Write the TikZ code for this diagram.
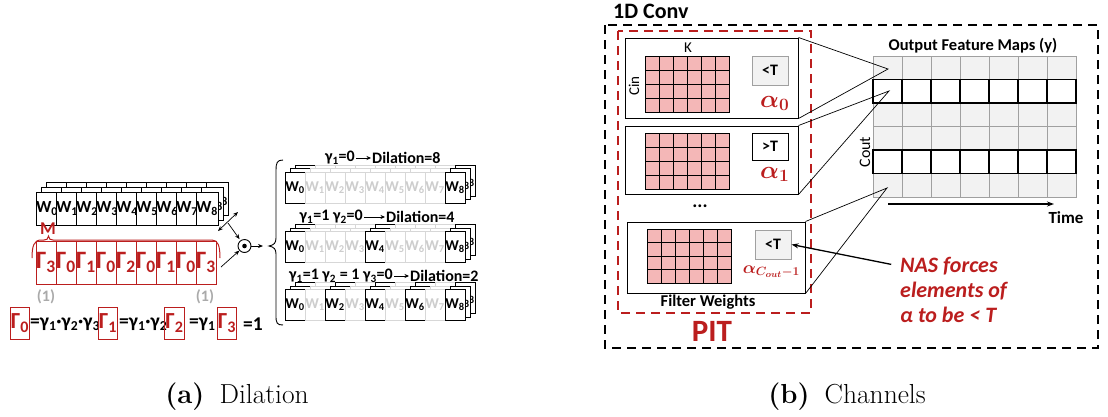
\documentclass[tikz,border=0pt]{standalone}
\usepackage{amsmath}
\usepackage{bm}
\usepackage{fontspec}
\newfontfamily\carl{Carlito}
\usetikzlibrary{arrows.meta}

\definecolor{pitred}{RGB}{187,30,30}
\definecolor{pinkcell}{RGB}{244,183,183}
\definecolor{lightfill}{RGB}{242,242,242}
\definecolor{midgray}{RGB}{160,160,160}
\definecolor{ghostline}{RGB}{215,215,215}
\definecolor{ghosttext}{RGB}{205,205,205}
\definecolor{onegray}{RGB}{170,170,170}

\newcommand\fs[1]{\fontsize{#1}{#1}\selectfont}
\newcommand\wl[1]{W\textsubscript{#1}}
\newcommand\gl[1]{Γ\textsubscript{#1}}
\newcommand\yl[1]{γ\textsubscript{#1}}
% 6x4 pink weight matrix: x0, y0, cell width, cell height
\newcommand\pinkgrid[4]{%
  \filldraw[fill=pinkcell,line width=1pt] (#1,#2) rectangle ({#1+6*#3},{#2+4*#4});
  \foreach \c in {1,...,5} \draw[line width=1pt] ({#1+\c*#3},#2) -- ({#1+\c*#3},{#2+4*#4});
  \foreach \r in {1,...,3} \draw[line width=1pt] (#1,{#2+\r*#4}) -- ({#1+6*#3},{#2+\r*#4});
}

\tikzset{
  wbox/.style={draw, fill=white, line width=0.9pt, minimum width=20, minimum height=33,
    inner sep=0, font=\carl\bfseries\fs{17}},
  dbox/.style={draw, fill=white, line width=1pt, minimum width=20, minimum height=31,
    inner sep=0, font=\carl\bfseries\fs{15}},
  ghostbox/.style={draw=ghostline, fill=white, line width=0.8pt, text=ghosttext,
    minimum width=20, minimum height=31, inner sep=0, font=\carl\bfseries\fs{15}},
  gambox/.style={draw=pitred, fill=white, line width=1pt, text=pitred, minimum width=20,
    minimum height=43, inner sep=0, font=\carl\bfseries\fs{25}},
  eqbox/.style={draw=pitred, line width=1pt, text=pitred, minimum width=17,
    minimum height=32, inner xsep=0.5, inner ysep=0, font=\carl\bfseries\fs{23}},
  eqtxt/.style={inner sep=0, anchor=west, font=\carl\bfseries\fs{19.5}},
  hdr/.style={inner sep=1, font=\carl\bfseries\fs{16}},
  hdrarrow/.style={line width=0.6pt, -{Stealth[length=4.5,width=4]}},
  thin/.style={line width=0.7pt},
  smallarrow/.style={line width=0.7pt, -{Stealth[length=5,width=4]}},
  thrbox/.style={draw=midgray, fill=lightfill, line width=1pt, minimum width=36,
    minimum height=29, inner sep=0, font=\carl\bfseries\fs{16}},
  filterbox/.style={draw, line width=1pt, inner sep=0},
  lbl/.style={inner sep=0, font=\carl\fs{15}},
  blbl/.style={inner sep=0, font=\carl\bfseries\fs{16.5}},
  nas/.style={inner sep=0, anchor=base west, text=pitred, font=\carl\bfseries\itshape\fs{22}},
  caption/.style={inner sep=0, font=\fontsize{27.5}{30}\selectfont},
}

\begin{document}
\begin{tikzpicture}[x=1pt,y=-1pt]
\useasboundingbox (0,0) rectangle (1108,416);

%%%%%%%%%%%%%%%% (a) Dilation %%%%%%%%%%%%%%%%
% weight tensor: three stacked rows of nine taps
\foreach \dx/\dy/\l in {10/-10/c,5/-5/b,0/0/a}{
  \foreach \i in {0,...,8}{
    \node[wbox] (w\l\i) at ({47+20*\i+\dx},{208.5+\dy}) {\wl{\i}};
  }
}

% mask M and its brace
\node[inner sep=0, text=pitred, font=\carl\bfseries\fs{18}] (M) at (48,228.5) {M};
\draw[pitred, line width=1pt] (32,258) .. controls (32,246) and (34,240) .. (41,240)
  -- (44,240) .. controls (47,240) and (48,239) .. (48.5,236)
  .. controls (49,239) and (50,240) .. (53,240) -- (212,240)
  .. controls (218,240) and (220,246) .. (220,258);

% gamma mask row
\foreach \k [count=\n from 0] in {3,0,1,0,2,0,1,0,3}{
  \node[gambox] (g\n) at ({46+20*\n},262.5) {\gl{\k}};
}
\node[inner sep=0, text=onegray, font=\carl\bfseries\fs{16}] (onel) at (46,297) {(1)};
\node[inner sep=0, text=onegray, font=\carl\bfseries\fs{16}] (oner) at (205,297) {(1)};

% gamma definitions
\node[eqbox] (e0) at (20,323) {\gl{0}};
\node[eqtxt] (q0) at (30,324) {=\yl{1}·\yl{2}·\yl{3}};
\node[eqbox] (e1) at (108,323) {\gl{1}};
\node[eqtxt] (q1) at (119,324) {=\yl{1}·\yl{2}};
\node[eqbox] (e2) at (174.5,323) {\gl{2}};
\node[eqtxt] (q2) at (189,324) {=\yl{1}};
\node[eqbox] (e3) at (227,323) {\gl{3}};
\node[eqtxt] (q3) at (243,324) {=1};

% element-wise product
\node[circle, draw, line width=0.9pt, minimum size=13, inner sep=0] (od) at (244.5,246) {};
\fill (od.center) circle (2.3);
\coordinate (da1) at (218,231);
\coordinate (da2) at (238,212);
\coordinate (dm) at (228,223);
\coordinate (gm) at (221,267);
\coordinate (ot) at (263,246);
\draw[thin, {Stealth[length=5,width=4]}-{Stealth[length=5,width=4]}] (da1) -- (da2);
\draw[smallarrow, shorten >=1.5] (dm) -- (od);
\draw[smallarrow] (gm) -- (od);
\draw[smallarrow] (od) -- (ot);

% brace grouping the three dilated kernels
\draw[line width=0.9pt] (283,160) .. controls (277,160) and (276,163) .. (276,170)
  -- (276,238) .. controls (276,243) and (274,245) .. (269,246)
  .. controls (274,247) and (276,249) .. (276,254) -- (276,316)
  .. controls (276,323) and (277,325) .. (283,325);

% dilated kernels: active taps in black, masked taps in grey
\foreach \r/\yc/\st in {1/187.5/8, 2/247/4, 3/305/2}{
  \foreach \dx/\dy/\l in {10/-7/c,5/-3.5/b,0/0/a}{
    \foreach \i in {0,...,8}{
      \pgfmathtruncatemacro\isdark{mod(\i,\st)==0 ? 1 : 0}
      \ifnum\isdark=1
        \node[dbox] (r\r\l\i) at ({295+20*\i+\dx},{\yc+\dy}) {\wl{\i}};
      \else
        \node[ghostbox] (r\r\l\i) at ({295+20*\i+\dx},{\yc+\dy}) {\wl{\i}};
      \fi
    }
  }
}

% row headers
\node[hdr, anchor=east] (h1a) at (356,158) {\yl{1}=0};
\node[hdr, anchor=west] (h1b) at (371,158) {Dilation=8};
\draw[hdrarrow] (h1a) -- (h1b);
\node[hdr, anchor=east] (h2a) at (364,217) {\yl{1}=1 \yl{2}=0};
\node[hdr, anchor=west] (h2b) at (385,217) {Dilation=4};
\draw[hdrarrow] (h2a) -- (h2b);
\node[hdr, anchor=east] (h3a) at (394,276) {\yl{1}=1 \yl{2} = 1 \yl{3}=0};
\node[hdr, anchor=west] (h3b) at (409,276) {Dilation=2};
\draw[hdrarrow] (h3a) -- (h3b);

\node[caption] (capa) at (237,397) {\textbf{(a)}\hspace{0.55em}Dilation};

%%%%%%%%%%%%%%%% (b) Channels %%%%%%%%%%%%%%%%
\node[inner sep=0, anchor=base west, font=\carl\bfseries\fs{22}] (conv) at (613,18.5) {1D Conv};
\draw[line width=2.3pt, dash pattern=on 9pt off 6pt] (605,25) rectangle (1098,348);
\draw[pitred, line width=2.3pt, dash pattern=on 9pt off 6pt] (618,31) rectangle (811,313);

% filters
\node[filterbox, minimum width=173, minimum height=80] (f1) at (711.5,78) {};
\node[filterbox, minimum width=173, minimum height=68] (f2) at (711.5,160) {};
\node[filterbox, minimum width=178, minimum height=71] (f3) at (716,257.5) {};
\pinkgrid{645}{56}{14}{14}
\pinkgrid{645}{133}{14}{14}
\pinkgrid{647}{229}{14}{13.5}
\node[lbl] (K) at (688,48) {K};
\node[lbl, rotate=90] (cin) at (634,86) {Cin};

% channel masks
\node[thrbox] (t1) at (770,70.5) {<T};
\node[thrbox, draw=black, fill=white, minimum height=27] (t2) at (770,146.5) {>T};
\node[thrbox] (t3) at (773,244.5) {<T};
\node[inner sep=0, anchor=base west, text=pitred, font=\fs{25}] (a0) at (760,107) {$\bm{\alpha}_{\bm{0}}$};
\node[inner sep=0, anchor=base west, text=pitred, font=\fs{25}] (a1) at (760,178) {$\bm{\alpha}_{\bm{1}}$};
\node[inner sep=0, anchor=base east, text=pitred, font=\fs{18}] (a2) at (800,273) {$\bm{\alpha}_{\bm{C}_{\bm{out}}\bm{-1}}$};

\node[inner sep=0, font=\carl\bfseries\fs{19}] (dots) at (700,206) {...};
\node[blbl] (fw) at (708,302) {Filter Weights};
\node[inner sep=0, text=pitred, font=\carl\bfseries\fs{31}] (pit) at (712,331) {PIT};

% output feature maps
\foreach \r in {0,2,3,5}{
  \foreach \c in {0,...,6}{
    \filldraw[fill=lightfill, draw=midgray, line width=0.8pt]
      ({873+29*\c},{56+23.5*\r}) rectangle ++(29,23.5);
  }
}
\foreach \r in {1,4}{
  \foreach \c in {0,...,6}{
    \filldraw[fill=white, draw=black, line width=1.1pt]
      ({873+29*\c},{56+23.5*\r}) rectangle ++(29,23.5);
  }
}
\node[inner sep=0, font=\carl\bfseries\fs{16.5}] (ofm) at (973,46) {Output Feature Maps (y)};
\node[lbl, rotate=90, font=\carl\fs{16}] (cout) at (865,152) {Cout};
\coordinate (ts) at (888,204);
\coordinate (te) at (1054,204);
\draw[line width=1.3pt, -{Stealth[length=7,width=5]}] (ts) -- (te);
\node[blbl, font=\carl\bfseries\fs{17}] (time) at (1066,218) {Time};

% each filter produces one output channel
\coordinate (p0) at (888,69);
\coordinate (p1) at (889,91);
\coordinate (p5) at (887,188);
\draw[thin] (f1.north east) -- (p0) -- (f1.south east);
\draw[thin] (f2.north east) -- (p1) -- (f2.south east);
\draw[thin] (f3.north east) -- (p5) -- (f3.south east);

% NAS note
\node[nas] (nas1) at (900,272.5) {NAS forces};
\node[nas] (nas2) at (900,297.5) {elements of};
\node[nas] (nas3) at (900,322.5) {α to be < T};
\draw[line width=1.3pt, -{Stealth[length=7,width=5]}, shorten <=9] (nas1.west) -- (t3.east);

\node[caption] (capb) at (847,397) {\textbf{(b)}\hspace{0.55em}Channels};
\end{tikzpicture}
\end{document}
